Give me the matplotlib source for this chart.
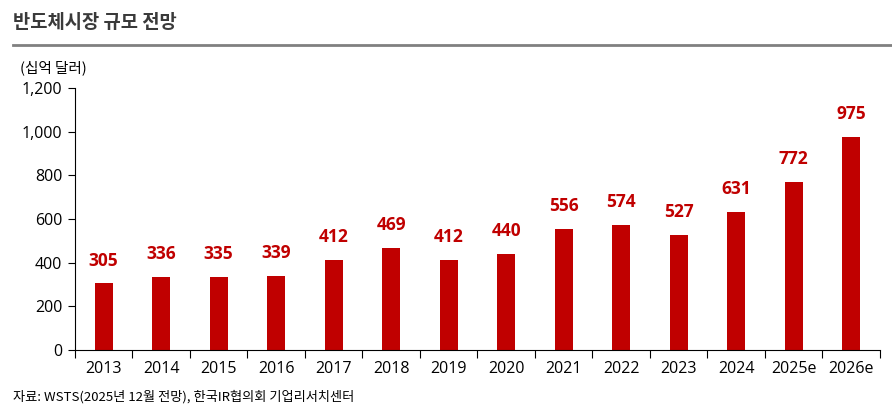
import numpy as np
import matplotlib.pyplot as plt
from matplotlib.lines import Line2D

plt.rcParams['font.family'] = ['Noto Sans CJK KR', 'DejaVu Sans']

years = ['2013', '2014', '2015', '2016', '2017', '2018', '2019', '2020',
         '2021', '2022', '2023', '2024', '2025e', '2026e']
market = [305, 336, 335, 339, 412, 469, 412, 440, 556, 574, 527, 631, 772, 975]
yticks = [0, 200, 400, 600, 800, 1000, 1200]

red = '#C00000'
num_font = ['Open Sans', 'Noto Sans CJK KR']

fig = plt.figure(figsize=(8.92, 4.12), dpi=100)
ax = fig.add_axes([0.084, 0.1505, 0.9025, 0.6355])

x = np.arange(len(years))
ax.bar(x, market, width=0.31, color=red)
for xi, v in zip(x, market):
    ax.annotate(f"{v:,}", (xi, v), xytext=(0, 10), textcoords='offset points',
                ha='center', va='bottom', color=red, fontsize=12.5, fontweight='bold',
                family=num_font)

ax.set_xlim(-0.5, len(years) - 0.5)
ax.set_ylim(0, 1200)
ax.set_yticks(yticks)
ax.set_yticklabels([f"{t:,}" for t in yticks], fontsize=11.5, family=num_font)
ax.set_xticks(x)
ax.set_xticklabels(years, fontsize=11.5, family=num_font)
ax.set_xticks(np.arange(len(years) + 1) - 0.5, minor=True)
ax.tick_params(axis='x', which='major', length=0, pad=8)
ax.tick_params(axis='x', which='minor', length=6, direction='out', width=0.8)
ax.tick_params(axis='y', length=5, width=0.8, pad=4)
for s in ['top', 'right']:
    ax.spines[s].set_visible(False)
ax.spines['left'].set_linewidth(0.8)
ax.spines['bottom'].set_linewidth(0.8)

fig.text(0.015, 0.945, '반도체시장 규모 전망', fontsize=13.5, fontweight='bold',
         color='#3a3a3a', va='center')
fig.add_artist(Line2D([0.015, 1.0], [0.89, 0.89], transform=fig.transFigure,
                      color='#808080', linewidth=2))
fig.text(0.022, 0.835, '(십억 달러)', fontsize=10.5, va='center')
fig.text(0.015, 0.037, '자료: WSTS(2025년 12월 전망), 한국IR협의회 기업리서치센터',
         fontsize=9.5, va='center')

fig.savefig('out.png', dpi=100)
